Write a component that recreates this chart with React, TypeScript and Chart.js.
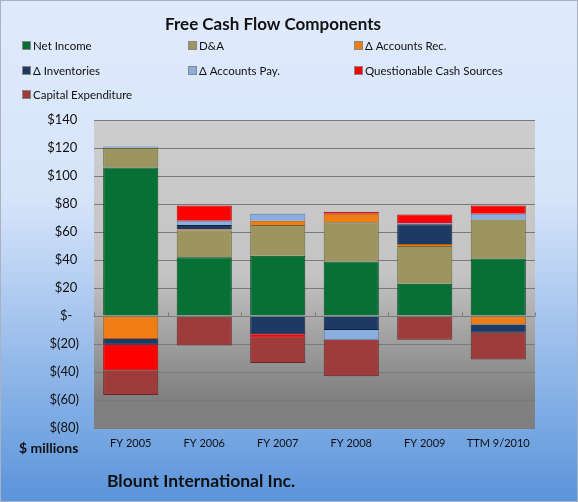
import React, { useEffect, useRef } from "react";
import { Chart, registerables } from "chart.js";

Chart.register(...registerables);

const categories = ["FY 2005", "FY 2006", "FY 2007", "FY 2008", "FY 2009", "TTM 9/2010"];
const netIncome = [106, 42, 43, 39, 23, 41];
const dna = [14, 19, 22, 28, 27, 28];
const accountsRec = [-16.5, 1, 3, 6, 1.5, -6];
const inventories = [-4, 3, -13, -10, 14, -6];
const accountsPay = [1, 3, 5, -7, 1, 4];
const questionable = [-18.5, 11, -2.5, 1.5, 6, 6];
const capex = [-17.5, -21, -18, -26, -17, -19];
const yTicks = [140, 120, 100, 80, 60, 40, 20, 0, -20, -40, -60, -80];

const FONT = "Lato, 'Open Sans', sans-serif";

const series = [
  { label: "Net Income", data: netIncome, color: "#067035", border: "#03461f" },
  { label: "D&A", data: dna, color: "#9c9560", border: "#6b653c" },
  { label: "\u0394 Accounts Rec.", data: accountsRec, color: "#f07c14", border: "#b2590a" },
  { label: "\u0394 Inventories", data: inventories, color: "#1d3a64", border: "#10233e" },
  { label: "\u0394 Accounts Pay.", data: accountsPay, color: "#8aaee0", border: "#5a7fb2" },
  { label: "Questionable Cash Sources", data: questionable, color: "#ff0000", border: "#b30000" },
  { label: "Capital Expenditure", data: capex, color: "#9e3b3b", border: "#6a2525" },
];

const bgPlugin = {
  id: "bgPlugin",
  beforeDraw(chart: any) {
    const { ctx, width, height, chartArea } = chart;
    ctx.save();
    const g = ctx.createLinearGradient(0, 0, 0, height);
    g.addColorStop(0, "#e0eafc");
    g.addColorStop(0.4, "#d6e4fa");
    g.addColorStop(1, "#5a94db");
    ctx.fillStyle = g;
    ctx.fillRect(0, 0, width, height);
    ctx.strokeStyle = "#a9b3c0";
    ctx.lineWidth = 1;
    ctx.strokeRect(0.5, 0.5, width - 1, height - 1);
    const pg = ctx.createLinearGradient(0, chartArea.top, 0, chartArea.bottom);
    pg.addColorStop(0, "#cdcdcd");
    pg.addColorStop(0.5, "#c4c4c4");
    pg.addColorStop(0.9, "#808080");
    pg.addColorStop(1, "#7f7f7f");
    ctx.fillStyle = pg;
    ctx.fillRect(chartArea.left, chartArea.top, chartArea.right - chartArea.left, chartArea.bottom - chartArea.top);
    ctx.restore();
  },
  afterDatasetsDraw(chart: any) {
    const { ctx, chartArea } = chart;
    const xs = chart.scales.x;
    const y0 = Math.round(chart.scales.y.getPixelForValue(0)) + 0.5;
    ctx.save();
    ctx.strokeStyle = "#7a7a7a";
    ctx.lineWidth = 1;
    ctx.beginPath();
    ctx.moveTo(chartArea.left, y0);
    ctx.lineTo(chartArea.right, y0);
    const step = (chartArea.right - chartArea.left) / categories.length;
    for (let i = 0; i <= categories.length; i++) {
      const x = Math.round(xs.left + step * i) + 0.5;
      ctx.moveTo(x, y0 - 4);
      ctx.lineTo(x, y0);
    }
    ctx.stroke();
    ctx.restore();
  },
  afterDraw(chart: any) {
    const { ctx } = chart;
    ctx.save();
    ctx.fillStyle = "#111";
    ctx.textBaseline = "middle";
    ctx.textAlign = "center";
    ctx.font = `bold 17px ${FONT}`;
    ctx.fillText("Free Cash Flow Components", 273, 25);
    ctx.textAlign = "left";
    ctx.font = `11.5px ${FONT}`;
    const cols = [22, 188, 354];
    const rows = [45, 70, 94];
    chart.data.datasets.forEach((ds: any, i: number) => {
      const x = cols[i % 3];
      const y = rows[Math.floor(i / 3)];
      ctx.fillStyle = ds.backgroundColor;
      ctx.fillRect(x, y - 4, 9, 9);
      ctx.strokeStyle = "#888";
      ctx.lineWidth = 1;
      ctx.strokeRect(x + 0.5, y - 3.5, 8, 8);
      ctx.fillStyle = "#111";
      ctx.fillText(ds.label, x + 11, y + 1);
    });
    ctx.font = `bold 14px ${FONT}`;
    ctx.fillText("$ millions", 19, 448);
    ctx.font = `bold 17.5px ${FONT}`;
    ctx.fillText("Blount International Inc.", 107, 481);
    ctx.restore();
  },
};

export default function App() {
  const ref = useRef<HTMLCanvasElement>(null);
  useEffect(() => {
    document.body.style.margin = "0";
    const chart = new Chart(ref.current!, {
      type: "bar",
      data: {
        labels: categories,
        datasets: series.map((s) => ({
          label: s.label,
          data: s.data,
          backgroundColor: s.color,
          borderColor: s.border,
          borderWidth: 1,
          stack: "a",
        })),
      },
      options: {
        animation: false,
        responsive: false,
        maintainAspectRatio: false,
        layout: { padding: { top: 120, left: 0, right: 43, bottom: 44 } },
        plugins: { legend: { display: false }, title: { display: false }, tooltip: { enabled: false } },
        datasets: { bar: { categoryPercentage: 1, barPercentage: 0.75 } },
        scales: {
          x: {
            stacked: true,
            grid: { display: false },
            border: { display: false },
            ticks: { color: "#111", font: { family: FONT, size: 11 }, padding: 1, maxRotation: 0 },
            afterFit: (s: any) => { s.height = 30; },
          },
          y: {
            stacked: true,
            min: -80,
            max: 140,
            afterBuildTicks: (s: any) => { s.ticks = yTicks.map((v) => ({ value: v })); },
            grid: { color: "#7a7a7a", lineWidth: 1, drawTicks: false },
            border: { display: false },
            ticks: {
              color: "#111",
              font: { family: FONT, size: 13 },
              padding: 15,
              callback: (v: any) => (v === 0 ? "$-  " : v < 0 ? `$(${-v})` : `$${v}\u2009`),
            },
            afterFit: (s: any) => { s.width = 94; },
          },
        },
      },
      plugins: [bgPlugin],
    });
    return () => chart.destroy();
  }, []);
  return (
    <div style={{ position: "fixed", left: 0, top: 0, width: 578, height: 502 }}>
      <canvas ref={ref} width={578} height={502} style={{ width: 578, height: 502 }} />
    </div>
  );
}
